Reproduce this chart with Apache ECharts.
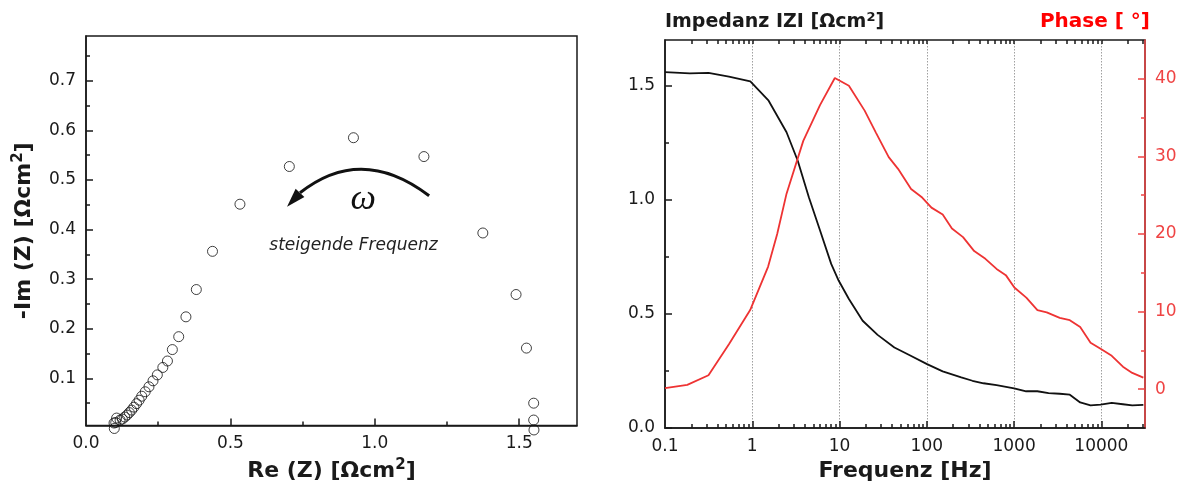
<!DOCTYPE html>
<html><head><meta charset="utf-8">
<script src="https://cdn.jsdelivr.net/npm/echarts@6/dist/echarts.min.js"></script>
<style>html,body{margin:0;padding:0;background:#fff}#c{width:1184px;height:487px}</style>
</head><body><div id="c"></div><script>
// ---- Nyquist data ----
const reZ = [1.551,1.550,1.550,1.525,1.489,1.374,1.170,0.926,0.704,0.533,0.438,0.382,0.346,0.321,0.299,0.282,0.266,0.247,0.232,0.218,0.205,0.193,0.184,0.175,0.166,0.158,0.150,0.142,0.134,0.126,0.118,0.106,0.103,0.097,0.098];
const imZ = [-0.004,0.016,0.050,0.161,0.269,0.393,0.547,0.585,0.527,0.451,0.356,0.279,0.224,0.184,0.158,0.135,0.122,0.107,0.095,0.083,0.073,0.064,0.056,0.049,0.042,0.036,0.031,0.026,0.022,0.018,0.016,0.020,0.011,0.010,-0.001];
// ---- Bode data ----
const freqZ = [0.1,0.193,0.315,0.54,0.95,1.54,2.47,3.32,4.45,5.98,8.02,9.76,12.8,18.4,27.3,42.5,62.9,100.6,152,248,333,446,630,1000,1376,1848,2484,3337,4350,5718,7519,9793,13150,17660,22590,30270];
const magZ  = [1.559,1.554,1.556,1.540,1.519,1.434,1.296,1.171,1.011,0.865,0.719,0.646,0.565,0.470,0.408,0.353,0.320,0.280,0.248,0.222,0.207,0.196,0.188,0.174,0.161,0.161,0.153,0.150,0.146,0.112,0.099,0.102,0.110,0.104,0.099,0.101];
const freqP = [0.1,0.18,0.315,0.54,0.946,1.52,1.93,2.47,3.84,5.97,8.83,12.8,19.4,26.0,36.6,46.8,66,88.5,113,152,194,260,349,469,630,804,1007,1380,1850,2366,3334,4350,5720,7520,9790,13150,17660,22600,30270];
const phase = [0.13,0.56,1.8,5.8,10.2,15.8,20.0,25.2,32.0,36.6,40.1,39.1,35.9,33.1,29.9,28.4,25.8,24.7,23.4,22.5,20.7,19.6,17.8,16.8,15.5,14.7,13.1,11.8,10.2,9.9,9.2,8.9,8.0,6.0,5.2,4.3,2.9,2.1,1.5];
// ---- ticks ----
const reLabels = [0, 0.5, 1.0, 1.5];
const reMinor = [0.25, 0.75, 1.25];
const imLabels = [0.1,0.2,0.3,0.4,0.5,0.6,0.7];
const imMinor = [0.05,0.15,0.25,0.35,0.45,0.55,0.65,0.75];
const fLabels = [0.1,1,10,100,1000,10000];
const fMajor = [1,10,100,1000,10000];
const fMinor = [0.2,0.3,0.4,0.5,0.6,0.7,0.8,0.9,2,3,4,5,6,7,8,9,20,30,40,50,60,70,80,90,200,300,400,500,600,700,800,900,2000,3000,4000,5000,6000,7000,8000,9000,20000,30000];
const zLabels = [0,0.5,1.0,1.5];
const zMinor = [0.25,0.75,1.25];
const pLabels = [0,10,20,30,40];
const pMinor = [5,15,25,35];
// annotation anchors (data units of the Nyquist plot)
const arcStart = [1.188,0.468], arcCtrl = [0.954,0.572], arcEnd = [0.741,0.474], arcTip = [0.696,0.446];
const omegaPos = [0.960,0.461], notePos = [0.926,0.368];

const FONT = 'DejaVu Sans';
const BLACK = '#1a1a1a';
const RED = '#ef4444';
const chart = echarts.init(document.getElementById('c'), null, {renderer:'canvas'});
const lbl = (vals, fmt, color) => ({show:true, customValues: vals, formatter: fmt, fontFamily: FONT, fontSize: 17, color: color || BLACK, margin: 10});
const tk = (vals, len, color) => ({show:true, inside:true, length:len, customValues: vals, lineStyle:{color: color||BLACK, width:1.5}});
const line = (show, color) => ({show:show, onZero:false, lineStyle:{color: color||BLACK, width:1.5}});
const sup = (fs, pad) => ({s:{fontSize:fs, fontWeight:'bold', fontFamily:FONT, verticalAlign:'bottom', padding:[0,0,pad,0]}});
const fmt1 = v => Number(v).toFixed(1);

chart.setOption({
  animation:false,
  grid:[
    {left:86, top:36, width:491, height:395, show:true, borderColor:BLACK, borderWidth:1.5},
    {left:665, top:40, width:480, height:388, show:true, borderColor:BLACK, borderWidth:1.5}
  ],
  xAxis:[
    {type:'value', gridIndex:0, position:'bottom', min:0, max:1.7,
     axisLine: line(true), axisTick: tk([0.5,1.0,1.5], 7), axisLabel: lbl(reLabels, fmt1), splitLine:{show:false},
     name:'Re (Z) [Ωcm{s|2}]', nameLocation:'middle', nameGap:32,
     nameTextStyle:{fontFamily:FONT, fontWeight:'bold', fontSize:22, color:BLACK, rich:sup(15,12)}},
    {type:'value', gridIndex:0, position:'bottom', min:0, max:1.7,
     axisLine: line(false), axisTick: tk(reMinor, 4), axisLabel:{show:false}, splitLine:{show:false}},
    {type:'log', logBase:10, gridIndex:1, position:'bottom', min:0.1, max:31622.8,
     axisLine: line(true), axisTick: tk(fMajor, 7), axisLabel: lbl(fLabels, v => String(v)),
     splitLine:{show:true, lineStyle:{color:'#a0a0a0', type:[1.5,1.5], width:1}},
     name:'Frequenz [Hz]', nameLocation:'middle', nameGap:32,
     nameTextStyle:{fontFamily:FONT, fontWeight:'bold', fontSize:22, color:BLACK}},
    {type:'log', logBase:10, gridIndex:1, position:'bottom', min:0.1, max:31622.8,
     axisLine: line(false), axisTick: tk(fMinor, 4), axisLabel:{show:false}, splitLine:{show:false}},
    {type:'log', logBase:10, gridIndex:1, position:'top', min:0.1, max:31622.8,
     axisLine: line(false), axisTick: tk(fMinor.concat(fMajor), 4), axisLabel:{show:false}, splitLine:{show:false}}
  ],
  yAxis:[
    {type:'value', gridIndex:0, position:'left', min:0.005, max:0.79,
     axisLine: line(true), axisTick: tk(imLabels, 7), axisLabel: lbl(imLabels, fmt1), splitLine:{show:false},
     name:'-Im (Z) [Ωcm{s|2}]', nameLocation:'middle', nameGap:48, nameRotate:90,
     nameTextStyle:{fontFamily:FONT, fontWeight:'bold', fontSize:22, color:BLACK, rich:sup(15,12)}},
    {type:'value', gridIndex:0, position:'left', min:0.005, max:0.79,
     axisLine: line(false), axisTick: tk(imMinor, 4), axisLabel:{show:false}, splitLine:{show:false}},
    {type:'value', gridIndex:1, position:'left', min:0, max:1.7,
     axisLine: line(true), axisTick: tk(zLabels, 7), axisLabel: lbl(zLabels, fmt1), splitLine:{show:false},
     name:'Impedanz IZI [Ωcm{s|2}]', nameLocation:'end', nameGap:6,
     nameTextStyle:{fontFamily:FONT, fontWeight:'bold', fontSize:19, color:BLACK, align:'left', rich:sup(13,10)}},
    {type:'value', gridIndex:1, position:'left', min:0, max:1.7,
     axisLine: line(false), axisTick: tk(zMinor, 4), axisLabel:{show:false}, splitLine:{show:false}},
    {type:'value', gridIndex:1, position:'right', min:-5, max:45,
     axisLine: line(true, RED), axisTick: tk(pLabels, 7, RED), axisLabel: lbl(pLabels, v => String(v), RED), splitLine:{show:false},
     name:'Phase [ °]', nameLocation:'end', nameGap:8,
     nameTextStyle:{fontFamily:FONT, fontWeight:'bold', fontSize:20, color:'#ff0000', align:'right', padding:[0,-5,0,0]}},
    {type:'value', gridIndex:1, position:'right', min:-5, max:45,
     axisLine: line(false), axisTick: tk(pMinor, 4, RED), axisLabel:{show:false}, splitLine:{show:false}}
  ],
  series:[
    {type:'scatter', xAxisIndex:0, yAxisIndex:0, clip:false, symbol:'circle', symbolSize:10,
     itemStyle:{color:'rgba(0,0,0,0)', borderColor:'#111', borderWidth:1},
     data: reZ.map((x,i)=>[x, imZ[i]])},
    {type:'line', xAxisIndex:2, yAxisIndex:2, showSymbol:false, symbol:'none',
     lineStyle:{color:'#111', width:1.8}, data: freqZ.map((f,i)=>[f, magZ[i]])},
    {type:'line', xAxisIndex:2, yAxisIndex:4, showSymbol:false, symbol:'none',
     lineStyle:{color:'#ee3333', width:1.8}, data: freqP.map((f,i)=>[f, phase[i]])}
  ]
});

const P = d => chart.convertToPixel({xAxisIndex:0, yAxisIndex:0}, d);
const s = P(arcStart), c = P(arcCtrl), e = P(arcEnd), t = P(arcTip);
const dx = t[0]-e[0], dy = t[1]-e[1], L = Math.hypot(dx,dy);
const nx = -dy/L, ny = dx/L, hw = 6;
const o = P(omegaPos), n = P(notePos);
chart.setOption({graphic:[
  {type:'bezierCurve', shape:{x1:s[0], y1:s[1], x2:e[0], y2:e[1], cpx1:c[0], cpy1:c[1]},
   style:{stroke:'#111', lineWidth:3, fill:null}},
  {type:'polygon', shape:{points:[[t[0],t[1]],[e[0]+nx*hw, e[1]+ny*hw],[e[0]-nx*hw, e[1]-ny*hw]]},
   style:{fill:'#111'}},
  {type:'text', x:o[0], y:o[1], style:{text:'ω', font:'italic 36px "Liberation Serif"', fill:'#111', align:'center', verticalAlign:'middle'}},
  {type:'text', x:n[0], y:n[1], style:{text:'steigende Frequenz', font:'italic 17px "DejaVu Sans"', fill:'#222', align:'center', verticalAlign:'middle'}}
]});
</script></body></html>
